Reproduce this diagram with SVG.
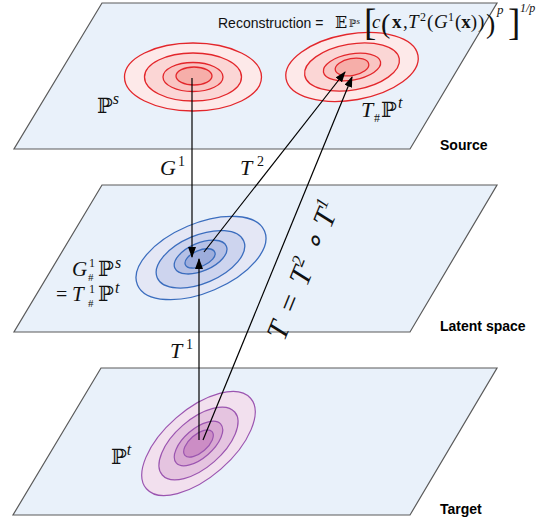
<svg xmlns="http://www.w3.org/2000/svg" width="541" height="522" viewBox="0 0 541 522">
<defs>
<style>
.plane{fill:#E9F1FA;stroke:#5a5a5a;stroke-width:1.2}
.red{stroke:#E3262B;stroke-width:1.3}
.blue{stroke:#3B6DBE;stroke-width:1.3}
.pur{stroke:#9B55B0;stroke-width:1.2}
.conn{stroke:#000;stroke-width:1.2;fill:none}
.m{font-family:"Liberation Serif","DejaVu Serif",serif;font-style:italic;fill:#111}
.bb{font-family:"DejaVu Serif","DejaVu Sans",serif;fill:#111}
.lbl{font-family:"Liberation Sans",Arial,sans-serif;font-weight:bold;font-size:14px;fill:#000}
.up{font-family:"Liberation Serif",serif;fill:#111}
</style>
<marker id="ah" markerUnits="userSpaceOnUse" markerWidth="11" markerHeight="8" refX="10" refY="4" orient="auto">
<path d="M0,0 L11,4 L0,8 z" fill="#000"/>
</marker>
</defs>
<rect width="541" height="522" fill="#fff"/>

<g id="plane-source">
<polygon class="plane" points="102,3 497,3 410,149 14,149"/>
</g>
<g id="plane-latent">
<polygon class="plane" points="102,185 497,185 410,332 14,332"/>
</g>
<g id="plane-target">
<polygon class="plane" points="101,368 497,368 410,515 13,515"/>
</g>

<g id="dist-Ps">
<ellipse class="red" cx="193" cy="77" rx="68.5" ry="34" fill="#FDE9E9"/>
<ellipse class="red" cx="193" cy="77" rx="48.5" ry="24" fill="#FBD6D5"/>
<ellipse class="red" cx="193" cy="77" rx="30" ry="14.5" fill="#F9C4C2"/>
<ellipse class="red" cx="194" cy="76" rx="18" ry="9" fill="#F6AEA9"/>
<text x="97" y="113" class="bb" font-size="21">ℙ<tspan class="m" font-size="16" dy="-9">s</tspan></text>
</g>

<g id="dist-TPt" transform="translate(352,67) rotate(-10)">
<ellipse class="red" cx="0" cy="0" rx="67" ry="33" fill="#FDE9E9"/>
<ellipse class="red" cx="0" cy="0" rx="48" ry="23" fill="#FBD6D5"/>
<ellipse class="red" cx="0" cy="0" rx="29" ry="13" fill="#F9C4C2"/>
<ellipse class="red" cx="0" cy="0" rx="17" ry="8.5" fill="#F6AEA9"/>
</g>
<g id="label-TPt">
<text x="361" y="117" class="m" font-size="22">T</text>
<text x="374" y="122" class="up" font-size="12">#</text>
<text x="381" y="117" class="bb" font-size="21">ℙ</text>
<text x="398" y="108" class="m" font-size="16">t</text>
</g>

<g id="dist-latent" transform="translate(201,258) rotate(-23)">
<ellipse class="blue" cx="0" cy="0" rx="69" ry="34.5" fill="#E4E7F5"/>
<ellipse class="blue" cx="-1" cy="1" rx="47" ry="24" fill="#CDD4EE"/>
<ellipse class="blue" cx="0" cy="-1" rx="28" ry="14" fill="#B5C0E5"/>
<ellipse class="blue" cx="-1" cy="0" rx="16" ry="8" fill="#9DADDC"/>
</g>
<g id="label-latent">
<text x="72" y="276" class="m" font-size="21">G</text>
<text x="89" y="267" class="up" font-size="12">1</text>
<text x="88" y="281" class="up" font-size="11">#</text>
<text x="98" y="276" class="bb" font-size="21">ℙ</text>
<text x="115" y="268" class="m" font-size="16">s</text>
<text x="56" y="301" class="up" font-size="20">=</text>
<text x="72" y="301" class="m" font-size="21">T</text>
<text x="89" y="293" class="up" font-size="12">1</text>
<text x="88" y="307" class="up" font-size="11">#</text>
<text x="98" y="301" class="bb" font-size="21">ℙ</text>
<text x="115" y="293" class="m" font-size="16">t</text>
</g>

<g id="dist-target" transform="translate(198.5,443.5) rotate(-41)">
<ellipse class="pur" cx="0" cy="0" rx="69" ry="34" fill="#F2E0EE"/>
<ellipse class="pur" cx="0" cy="0" rx="48" ry="24" fill="#E5C4E0"/>
<ellipse class="pur" cx="0" cy="0" rx="29.5" ry="14.5" fill="#D8A8D2"/>
<ellipse class="pur" cx="0" cy="0" rx="18" ry="9" fill="#CC8DC5"/>
</g>
<g id="label-Pt">
<text x="111" y="464" class="bb" font-size="21">ℙ<tspan class="m" font-size="16" dy="-9">t</tspan></text>
</g>

<g id="connectors">
<line class="conn" x1="192" y1="78" x2="192" y2="257" marker-end="url(#ah)"/>
<line class="conn" x1="199" y1="440" x2="199" y2="259" marker-end="url(#ah)"/>
<line class="conn" x1="204" y1="252" x2="345" y2="72" marker-end="url(#ah)"/>
<line class="conn" x1="203" y1="440" x2="352" y2="77" marker-end="url(#ah)"/>
</g>

<g id="edge-labels">
<text x="160" y="175" class="m" font-size="22">G</text>
<text x="178" y="166" class="up" font-size="14">1</text>
<text x="240" y="175" class="m" font-size="22">T</text>
<text x="257" y="166" class="up" font-size="14">2</text>
<text x="170" y="358" class="m" font-size="22">T</text>
<text x="186" y="349" class="up" font-size="14">1</text>
<g transform="translate(303,270) rotate(-67.7)">
<text x="0" y="10" text-anchor="middle" class="m" font-size="30">T<tspan class="up" dx="11">=</tspan><tspan dx="11">T</tspan><tspan class="up" font-size="18" dy="-12">2</tspan><tspan class="up" dx="9" dy="12">∘</tspan><tspan dx="9">T</tspan><tspan class="up" font-size="18" dy="-12">1</tspan></text>
</g>
</g>

<g id="formula">
<text x="218" y="28" font-family="'Liberation Sans',Arial,sans-serif" font-size="14" fill="#111">Reconstruction =</text>
<text x="335" y="28" class="bb" font-size="16">𝔼</text>
<text x="349" y="27" class="bb" font-size="10" fill="#444">ℙ<tspan class="m" font-size="9" dy="-3">s</tspan></text>
<text x="364" y="35" class="up" font-size="37">[</text>
<text x="372" y="28" class="m" font-size="19">c</text>
<text x="381" y="33" class="up" font-size="28">(</text>
<text x="392" y="28" class="up" font-size="19" font-weight="bold">x</text>
<text x="403" y="28" class="up" font-size="19">,</text>
<text x="408" y="28" class="m" font-size="19">T</text>
<text x="420" y="21" class="up" font-size="12">2</text>
<text x="427" y="28" class="up" font-size="19">(</text>
<text x="434" y="28" class="m" font-size="19">G</text>
<text x="448" y="21" class="up" font-size="12">1</text>
<text x="455" y="28" class="up" font-size="19">(<tspan font-weight="bold">x</tspan>)</text>
<text x="478" y="28" class="up" font-size="19">)</text>
<text x="486" y="33" class="up" font-size="28">)</text>
<text x="497" y="14" class="m" font-size="13">p</text>
<text x="508" y="35" class="up" font-size="37">]</text>
<text x="520" y="12" class="m" font-size="12">1/p</text>
</g>

<g id="plane-labels">
<text x="440" y="150" class="lbl">Source</text>
<text x="440" y="331" class="lbl">Latent space</text>
<text x="440" y="514" class="lbl">Target</text>
</g>
</svg>
